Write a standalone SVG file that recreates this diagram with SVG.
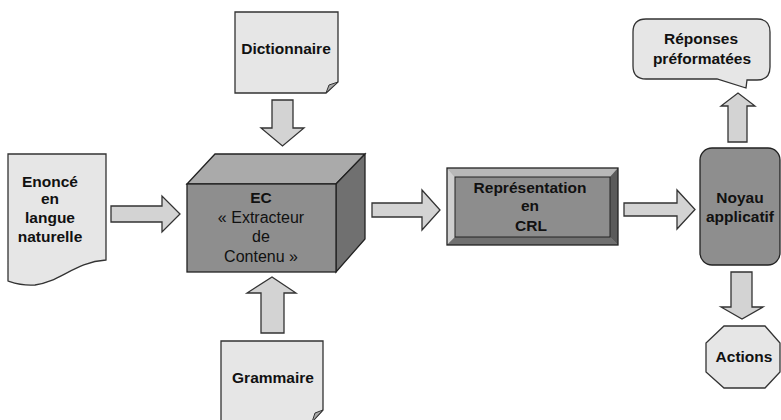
<svg xmlns="http://www.w3.org/2000/svg" width="781" height="420" viewBox="0 0 781 420">
<style>
.doc{fill:#e6e6e6;stroke:#333;stroke-width:1.3}
.fold{fill:#a8a8a8;stroke:#333;stroke-width:1}
.arr{fill:#d3d3d3;stroke:#333;stroke-width:1.3;stroke-linejoin:miter}
.dark{stroke:#222;stroke-width:1.3}
.t{font-family:"Liberation Sans",Arial,sans-serif;font-size:15.5px;font-weight:bold;fill:#111;text-anchor:middle}
.r{font-family:"Liberation Sans",Arial,sans-serif;font-size:16px;fill:#111;text-anchor:middle}
</style>
<rect width="781" height="420" fill="#fff"/>
<g id="connectors">
<polygon class="arr" points="111,206 162,206 162,196 180,214 162,232 162,222 111,222"/>
<polygon class="arr" points="372,203 422,203 422,190 440,210 422,230 422,217 372,217"/>
<polygon class="arr" points="624,203 677,203 677,190 695,209.5 677,229 677,216 624,216"/>
<polygon class="arr" points="272,100 293,100 293,128 304,128 282.5,146 261,128 272,128"/>
<polygon class="arr" points="261,333 261,293 247,293 272,277 296,293 284,293 284,333"/>
<polygon class="arr" points="728,142 728,106 721,106 738,93 755,106 747,106 747,142"/>
<polygon class="arr" points="731,272 752,272 752,307 763,307 742,319 721,307 731,307"/>
</g>
<g id="enonce">
<path class="doc" d="M8,154 H106 V260 C75,262 60,282 35,285 C22,286 14,283 8,281 Z"/>
<text class="t" x="50" y="187">Enoncé</text>
<text class="t" x="50" y="204">en</text>
<text class="t" x="50" y="223">langue</text>
<text class="t" x="50" y="242">naturelle</text>
</g>
<g id="dictionnaire">
<path class="doc" d="M235,12 H338 V82 L326,93 H235 Z"/>
<path class="fold" d="M326,93 L329,85 L338,82 Z"/>
<text class="t" x="286" y="54">Dictionnaire</text>
</g>
<g id="grammaire">
<path class="doc" d="M221,341 H323 V410 L312,422 H221 Z"/>
<path class="fold" d="M312,422 L315,413 L323,410 Z"/>
<text class="t" x="273" y="383">Grammaire</text>
</g>
<g id="ec">
<polygon class="dark" fill="#aaaaaa" points="187,184 215,154 365,154 336,184"/>
<polygon class="dark" fill="#707070" points="336,184 365,154 365,239 336,272"/>
<rect class="dark" fill="#8e8e8e" x="187" y="184" width="149" height="88"/>
<text class="t" x="261" y="203">EC</text>
<text class="r" x="261" y="223">« Extracteur</text>
<text class="r" x="261" y="242">de</text>
<text class="r" x="261" y="262">Contenu »</text>
</g>
<g id="crl">
<rect fill="#8d8d8d" x="447" y="168" width="171" height="77"/>
<polygon fill="#b8b8b8" points="447,168 618,168 610,177 455,177"/>
<polygon fill="#cfcfcf" points="447,168 455,177 455,237 447,245"/>
<polygon fill="#5a5a5a" points="618,168 618,245 610,237 610,177"/>
<polygon fill="#707070" points="447,245 455,237 610,237 618,245"/>
<rect fill="none" stroke="#222" stroke-width="1" x="455" y="177" width="155" height="60"/>
<rect fill="none" stroke="#222" stroke-width="1.3" x="447" y="168" width="171" height="77"/>
<text class="t" x="530" y="193">Représentation</text>
<text class="t" x="530" y="211">en</text>
<text class="t" x="531" y="231">CRL</text>
</g>
<g id="reponses">
<path class="doc" d="M646,19 H757 Q770,19 770,32 V67 Q770,80 757,80 H747 L746,88 L717,79 H646 Q633,79 633,66 V32 Q633,19 646,19 Z"/>
<text class="t" x="701" y="44">Réponses</text>
<text class="t" x="702" y="64">préformatées</text>
</g>
<g id="noyau">
<rect fill="#8e8e8e" stroke="#222" stroke-width="1.3" x="700" y="148" width="80" height="117" rx="12"/>
<text class="t" x="740" y="203">Noyau</text>
<text class="t" x="740" y="222">applicatif</text>
</g>
<g id="actions">
<polygon class="doc" points="724,326 765,326 780,343 780,372 765,388 724,388 706,372 706,343"/>
<text class="t" x="744" y="362">Actions</text>
</g>
</svg>
